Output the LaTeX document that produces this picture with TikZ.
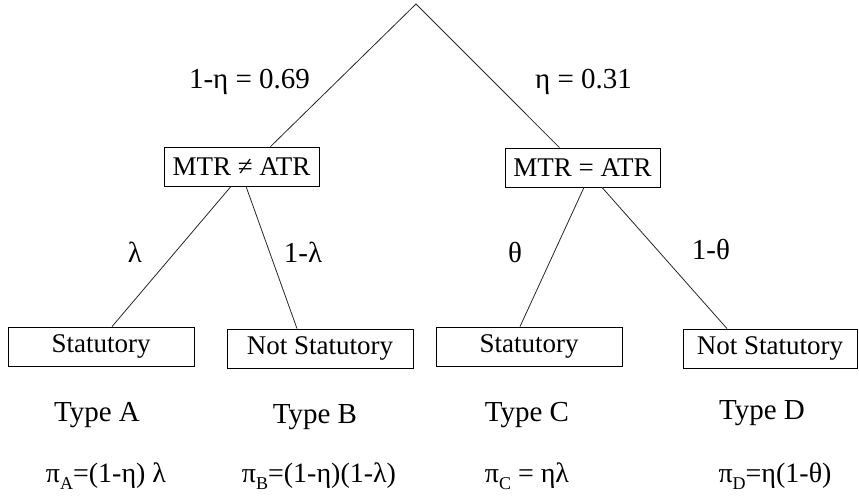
\documentclass[tikz,border=0pt]{standalone}
\usepackage{fontspec}
\setmainfont{Liberation Serif}
\newcommand{\lsub}[1]{\raisebox{-0.28em}{\fontsize{18}{18}\selectfont #1}}
\begin{document}
\begin{tikzpicture}[x=1pt,y=-1pt,
  boxsmall/.style={draw, line width=0.8pt, minimum height=39pt, inner sep=0pt, font=\fontsize{27}{27}\selectfont},
  lbl/.style={inner sep=0pt, font=\fontsize{29}{29}\selectfont},
  plbl/.style={inner sep=0pt, font=\fontsize{28}{28}\selectfont},
  edge/.style={line width=0.8pt, draw=black!85}]
\useasboundingbox (0,0) rectangle (859,502);
\coordinate (apex) at (416,4);
\node[boxsmall, minimum width=155pt] (bl) at (241.5,166.5) {MTR ≠ ATR};
\node[boxsmall, minimum width=155pt] (br) at (582.5,167.5) {MTR = ATR};
\node[boxsmall, minimum width=186pt] (b1) at (101,346.5) {Statutory};
\node[boxsmall, minimum width=186pt] (b2) at (320,348.5) {Not Statutory};
\node[boxsmall, minimum width=186pt] (b3) at (529,346.5) {Statutory};
\node[boxsmall, minimum width=174pt] (b4) at (770,348.5) {Not Statutory};
\draw[edge] ([xshift=29pt]bl.north) -- (apex) -- ([xshift=-23pt]br.north);
\draw[edge] ([xshift=-10.5pt]bl.south) -- ([xshift=11pt]b1.north);
\draw[edge] ([xshift=4.5pt]bl.south) -- ([xshift=-23pt]b2.north);
\draw[edge] ([xshift=1.5pt]br.south) -- ([xshift=-9pt]b3.north);
\draw[edge] ([xshift=19.5pt]br.south) -- ([xshift=-43pt]b4.north);
\node[lbl] (e1) at (249.5,82) {1-η = 0.69};
\node[lbl] (e2) at (583.5,82) {η = 0.31};
\node[lbl] (e3) at (135,252) {λ};
\node[lbl] (e4) at (303,252) {1-λ};
\node[lbl] (e5) at (515,253) {θ};
\node[lbl] (e6) at (711,250) {1-θ};
\node[lbl] (ta) at (97,415) {Type A};
\node[lbl] (tb) at (315,417) {Type B};
\node[lbl] (tc) at (527,415) {Type C};
\node[lbl] (td) at (762,413) {Type D};
\node[plbl, anchor=base] (pa) at (106,482) {π\lsub{A}=(1-η) λ};
\node[plbl, anchor=base] (pb) at (319,482) {π\lsub{B}=(1-η)(1-λ)};
\node[plbl, anchor=base] (pc) at (527,482) {π\lsub{C} = ηλ};
\node[plbl, anchor=base] (pd) at (775,482) {π\lsub{D}=η(1-θ)};
\end{tikzpicture}
\end{document}
